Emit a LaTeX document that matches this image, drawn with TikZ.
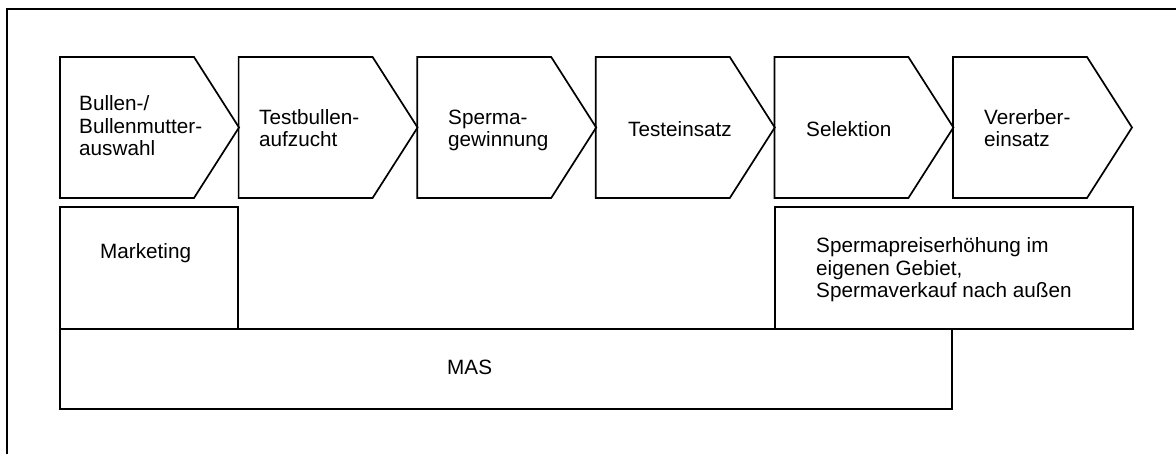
\documentclass[tikz,border=0pt]{standalone}
\usepackage{fontspec}
\setmainfont{Liberation Sans}
\tikzset{
  shapeline/.style={draw=black, line width=1.7pt, line join=miter},
  lbl/.style={inner sep=0pt, anchor=base west, align=left, font=\fontsize{20.7}{22.5}\selectfont},
}
\begin{document}
\begin{tikzpicture}[x=1pt, y=-1pt]
\useasboundingbox (0,0) rectangle (1176,454);
\begin{scope}
\clip (0,0) rectangle (1176,454);
\draw[line width=1.7pt] (7,9) rectangle (1200,480);
\end{scope}
% chevrons
\foreach \L in {60,238.6,417.2,595.8,774.4,953} {
  \draw[shapeline] (\L,57) -- ++(134,0) -- ++(45,70.5) -- ++(-45,70.5) -- (\L,198) -- cycle;
}
% boxes
\draw[shapeline] (60,207) rectangle (238,329);
\draw[shapeline] (775,207) rectangle (1133,329);
\draw[shapeline] (60,329) rectangle (952,409);
% labels (base = baseline of the last line)
\node[lbl] (t1) at (79,156) {Bullen-/\\Bullenmutter-\\auswahl};
\node[lbl] (t2) at (259,147) {Testbullen-\\aufzucht};
\node[lbl] (t3) at (448,147) {Sperma-\\gewinnung};
\node[lbl] (t4) at (628,137) {Testeinsatz};
\node[lbl] (t5) at (806,137) {Selektion};
\node[lbl] (t6) at (984,147) {Vererber-\\einsatz};
\node[lbl] (mk) at (100,259) {Marketing};
\node[lbl] (sp) at (816,298) {Spermapreiserhöhung im\\eigenen Gebiet,\\Spermaverkauf nach außen};
\node[lbl] (mas) at (447,375) {MAS};
\end{tikzpicture}
\end{document}
